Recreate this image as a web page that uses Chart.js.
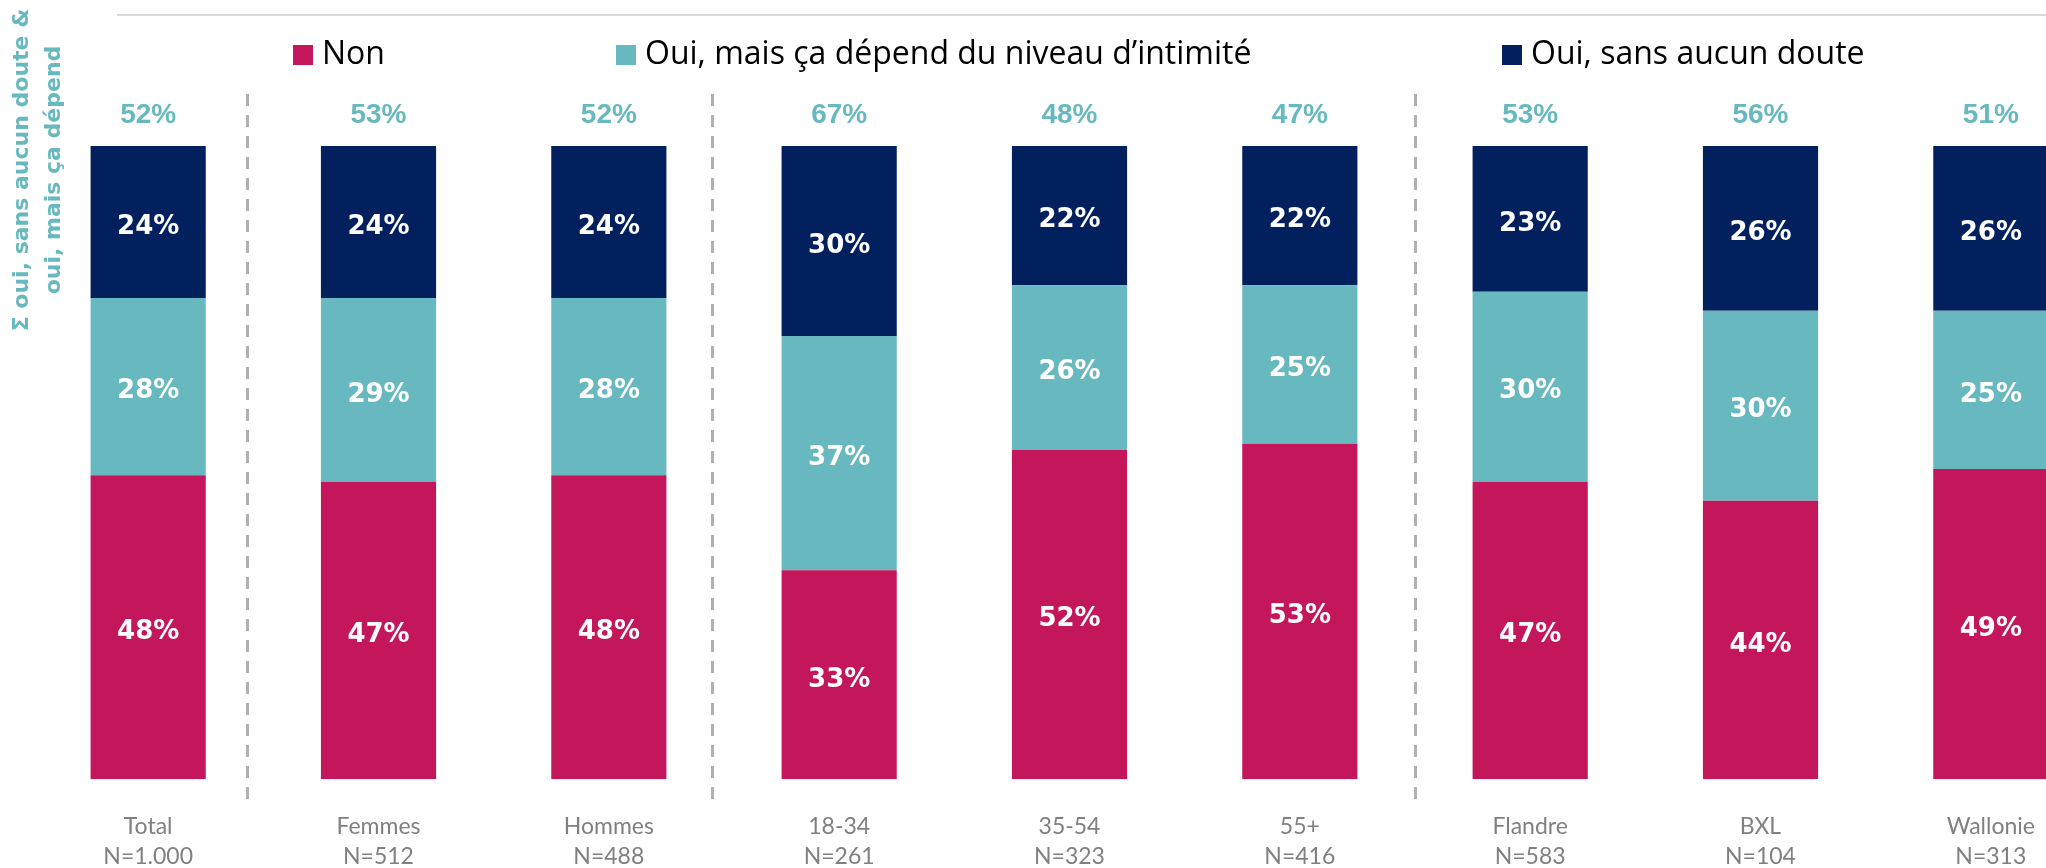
<!DOCTYPE html>
<html>
<head>
<meta charset="utf-8">
<title>Oui / Non</title>
<script src="https://cdn.jsdelivr.net/npm/chart.js@4.4.0/dist/chart.umd.min.js"></script>
<style>
html, body { margin: 0; padding: 0; background: #fff; overflow: hidden; }
#wrap { position: absolute; left: 0; top: 0; width: 2106px; height: 904px; }
</style>
</head>
<body>
<div id="wrap"><canvas id="myChart"></canvas></div>
<script>
// data
var categories = ["Total", "Femmes", "Hommes", "18-34", "35-54", "55+", "Flandre", "BXL", "Wallonie"];
var sampleSizes = ["N=1.000", "N=512", "N=488", "N=261", "N=323", "N=416", "N=583", "N=104", "N=313"];
var nonValues = [48, 47, 48, 33, 52, 53, 47, 44, 49];
var ouiMaisValues = [28, 29, 28, 37, 26, 25, 30, 30, 25];
var ouiSansValues = [24, 24, 24, 30, 22, 22, 23, 26, 26];
var totalLabels = [52, 53, 52, 67, 48, 47, 53, 56, 51];
var seriesNames = ["Non", "Oui, mais ça dépend du niveau d’intimité", "Oui, sans aucun doute"];
var yTitleLines = ["Σ oui, sans aucun doute &", "oui, mais ça dépend"];

// look
var pink = "#C4165A";
var teal = "#67B9BF";
var navy = "#03205E";
var legendX = [293, 616, 1502];
var separatorAt = [0.43, 2.45, 5.5]; // in category units, between groups

var decorations = {
	id: 'decorations',
	afterDatasetsDraw: function(chart) {
		var ctx = chart.ctx;
		var area = chart.chartArea;
		var xs = chart.scales.x;
		ctx.save();

		// values inside the segments
		ctx.textAlign = 'center';
		ctx.textBaseline = 'middle';
		ctx.fillStyle = '#fff';
		ctx.font = 'bold 26px "DejaVu Sans"';
		chart.data.datasets.forEach(function(ds, di) {
			chart.getDatasetMeta(di).data.forEach(function(bar, i) {
				ctx.fillText(ds.data[i] + '%', bar.x, (bar.y + bar.base) / 2 + 5);
			});
		});

		// sums above the bars
		ctx.fillStyle = teal;
		ctx.font = 'bold 28px "Liberation Sans"';
		var top = chart.getDatasetMeta(chart.data.datasets.length - 1);
		top.data.forEach(function(bar, i) {
			ctx.fillText(totalLabels[i] + '%', bar.x, bar.y - 31);
		});

		// dashed separators
		var step = xs.getPixelForValue(1) - xs.getPixelForValue(0);
		ctx.strokeStyle = '#b0b0b0';
		ctx.lineWidth = 3;
		ctx.setLineDash([12, 9]);
		separatorAt.forEach(function(s) {
			var px = Math.round(xs.getPixelForValue(0) + s * step) + 0.5;
			ctx.beginPath();
			ctx.moveTo(px, area.top - 52);
			ctx.lineTo(px, area.bottom + 21);
			ctx.stroke();
		});
		ctx.setLineDash([]);

		// thin line at the top
		ctx.strokeStyle = '#d9d9d9';
		ctx.lineWidth = 2;
		ctx.beginPath();
		ctx.moveTo(117, 15);
		ctx.lineTo(chart.width, 15);
		ctx.stroke();

		// legend
		ctx.textAlign = 'left';
		ctx.font = '32px "Open Sans"';
		chart.data.datasets.forEach(function(ds, di) {
			ctx.fillStyle = ds.backgroundColor;
			ctx.fillRect(legendX[di], 45, 20, 20);
			ctx.fillStyle = '#000';
			ctx.fillText(ds.label, legendX[di] + 29, 55);
		});

		// rotated title on the left
		ctx.translate(38, 170);
		ctx.rotate(-Math.PI / 2);
		ctx.textAlign = 'center';
		ctx.fillStyle = teal;
		ctx.font = 'bold 22px "DejaVu Sans"';
		ctx.fillText(yTitleLines[0], 0, -16);
		ctx.fillText(yTitleLines[1], 0, 16);
		ctx.restore();
	}
};

var ctx = document.getElementById('myChart').getContext('2d');
var myChart = new Chart(ctx, {
	type: 'bar',
	data: {
		labels: categories.map(function(c, i) { return [c, sampleSizes[i]]; }),
		datasets: [
			{ label: seriesNames[0], data: nonValues, backgroundColor: pink },
			{ label: seriesNames[1], data: ouiMaisValues, backgroundColor: teal },
			{ label: seriesNames[2], data: ouiSansValues, backgroundColor: navy }
		]
	},
	options: {
		responsive: true,
		maintainAspectRatio: false,
		animation: false,
		layout: { padding: { left: 33, right: 0, top: 146, bottom: 0 } },
		datasets: { bar: { categoryPercentage: 1, barPercentage: 0.5, borderWidth: 0 } },
		plugins: { legend: { display: false }, tooltip: { enabled: false } },
		scales: {
			x: {
				stacked: true,
				grid: { display: false, drawTicks: false },
				border: { display: false },
				ticks: {
					color: '#808080',
					font: { family: 'Lato', size: 23, lineHeight: 1.32 },
					padding: 32,
					maxRotation: 0,
					autoSkip: false
				}
			},
			y: { stacked: true, display: false, min: 0, max: 100 }
		}
	},
	plugins: [decorations]
});
</script>
</body>
</html>
